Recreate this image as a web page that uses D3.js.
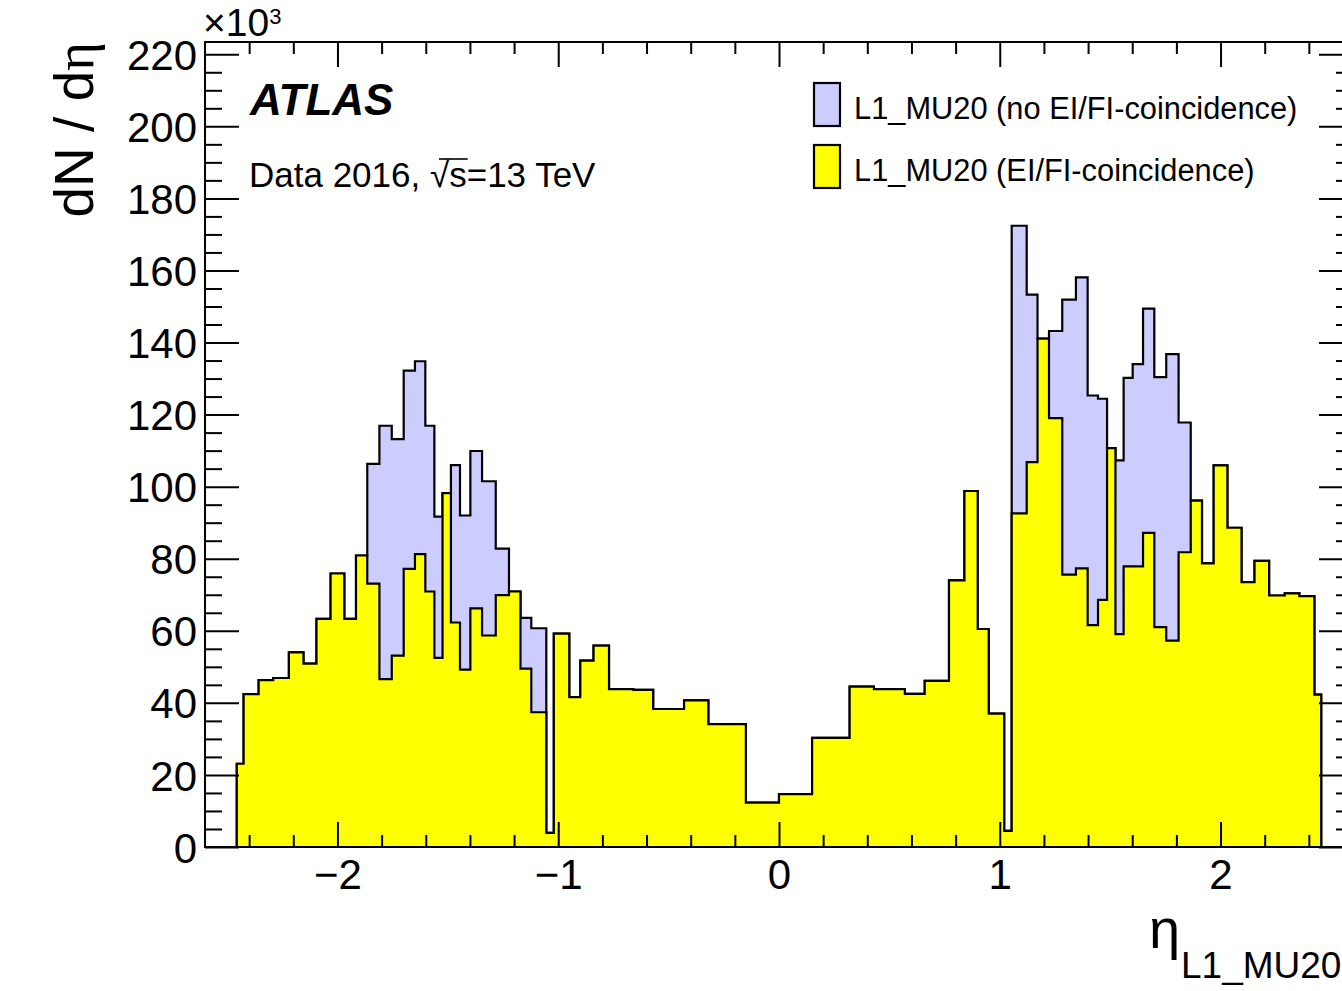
<!DOCTYPE html>
<html>
<head>
<meta charset="utf-8">
<script src="https://cdn.jsdelivr.net/npm/d3@7"></script>
<style>
  html, body { margin: 0; padding: 0; background: #fff; }
  svg { display: block; }
  text { font-family: "Liberation Sans", Arial, Helvetica, sans-serif; fill: #000; }
</style>
</head>
<body>
<svg id="chart" width="1342" height="991"></svg>
<script>
// ---------------- data ----------------
const etaEdges = [
  -2.456, -2.425, -2.357, -2.291, -2.220, -2.154, -2.095, -2.031, -1.969, -1.916,
  -1.865, -1.810, -1.754, -1.700, -1.649, -1.602, -1.561, -1.524, -1.486, -1.445,
  -1.398, -1.345, -1.283, -1.223, -1.171, -1.122, -1.054, -1.020,
  -0.95, -0.90, -0.84, -0.77, -0.66, -0.57, -0.43, -0.32, -0.15, 0.0,
  0.15, 0.32, 0.43, 0.57, 0.66, 0.77, 0.84, 0.90, 0.95, 1.020,
  1.054, 1.122, 1.171, 1.223, 1.283, 1.345, 1.398, 1.445, 1.486, 1.524,
  1.561, 1.602, 1.649, 1.700, 1.754, 1.810, 1.865, 1.916, 1.969, 2.031,
  2.095, 2.154, 2.220, 2.291, 2.357, 2.425, 2.456
];

// L1_MU20 (no EI/FI-coincidence), units of 10^3
const noCoincidence = [
  23.1, 42.4, 46.3, 46.9, 54.0, 50.9, 63.3, 75.9, 63.3, 80.9,
  106.3, 116.9, 113.2, 132.2, 134.8, 116.9, 91.7, 98.2, 106.0, 92.0,
  109.9, 101.5, 82.8, 70.9, 63.6, 60.7, 3.9,
  59.2, 41.6, 51.7, 55.9, 43.8, 43.6, 38.3, 40.7, 34.1, 12.3,
  14.7, 30.3, 44.5, 43.8, 42.5, 46.1, 74.0, 98.8, 60.5, 37.0,
  4.5, 172.4, 153.3, 141.1, 143.2, 151.9, 158.1, 125.3, 124.4, 110.7,
  107.3, 130.2, 134.0, 149.4, 130.4, 136.8, 117.8, 96.1, 78.7, 105.9,
  88.6, 73.5, 79.4, 69.8, 70.4, 69.6, 42.3
];

// L1_MU20 (EI/FI-coincidence), units of 10^3
const coincidence = [
  23.1, 42.4, 46.3, 46.9, 54.0, 50.9, 63.3, 75.9, 63.3, 80.9,
  73.1, 46.6, 53.1, 77.2, 81.3, 70.9, 52.5, 98.2, 62.3, 49.2,
  66.2, 58.7, 69.9, 70.9, 49.5, 37.4, 3.9,
  59.2, 41.6, 51.7, 55.9, 43.8, 43.6, 38.3, 40.7, 34.1, 12.3,
  14.7, 30.3, 44.5, 43.8, 42.5, 46.1, 74.0, 98.8, 60.5, 37.0,
  4.5, 92.6, 106.8, 141.1, 119.0, 75.6, 77.3, 61.6, 68.6, 110.7,
  59.1, 77.9, 77.9, 87.2, 61.0, 57.3, 81.8, 96.1, 78.7, 105.9,
  88.6, 73.5, 79.4, 69.8, 70.4, 69.6, 42.3
];

const seriesNames = ["L1_MU20 (no EI/FI-coincidence)", "L1_MU20 (EI/FI-coincidence)"];
const seriesColors = ["#ccccff", "#ffff00"];

const xMajorTicks = [-2, -1, 0, 1, 2];
const yMajorTicks = [0, 20, 40, 60, 80, 100, 120, 140, 160, 180, 200, 220];

// ---------------- layout ----------------
const frame = { left: 205, right: 1353, top: 42, bottom: 847 };
const svg = d3.select("#chart");

const x = d3.scaleLinear().domain([-2.6, 2.6]).range([frame.left, frame.right]);
const y = d3.scaleLinear().domain([0, 223.4]).range([frame.bottom, frame.top]);

const xMinorTicks = d3.range(-24, 25, 2).map(v => v / 10).filter(v => !xMajorTicks.some(m => Math.abs(m - v) < 1e-9));
const yMinorTicks = d3.range(0, 224, 5).filter(v => v % 20 !== 0);

const plot = svg.append("g");
plot.append("defs").append("clipPath").attr("id", "clip")
  .append("rect").attr("x", frame.left).attr("y", frame.top)
  .attr("width", frame.right - frame.left).attr("height", frame.bottom - frame.top);

function histPath(values) {
  const pts = [[x(etaEdges[0]), y(0)]];
  values.forEach((v, i) => {
    pts.push([x(etaEdges[i]), y(v)]);
    pts.push([x(etaEdges[i + 1]), y(v)]);
  });
  pts.push([x(etaEdges[etaEdges.length - 1]), y(0)]);
  return pts;
}

const line = d3.line();
[noCoincidence, coincidence].forEach((vals, k) => {
  const pts = histPath(vals);
  const g = plot.append("g").attr("clip-path", "url(#clip)");
  g.append("path").attr("d", line(pts) + "Z")
    .attr("fill", seriesColors[k]).attr("stroke", "none");
  g.append("path").attr("d", line(pts))
    .attr("fill", "none").attr("stroke", "#000").attr("stroke-width", 2.2)
    .attr("stroke-linejoin", "miter");
});

// ---------------- axes ----------------
function styleAxis(g) {
  g.select(".domain").remove();
  g.selectAll(".tick line").attr("stroke", "#000").attr("stroke-width", 2);
}

// bottom
svg.append("g").attr("transform", `translate(0,${frame.bottom})`)
  .call(d3.axisBottom(x).tickValues(xMajorTicks).tickSize(-25).tickPadding(12)
    .tickFormat(d3.format("d")))
  .call(styleAxis)
  .call(g => g.selectAll("text").attr("font-size", 42).attr("font-family", "Liberation Sans, Arial, sans-serif"));
svg.append("g").attr("transform", `translate(0,${frame.bottom})`)
  .call(d3.axisBottom(x).tickValues(xMinorTicks).tickSize(-12).tickFormat(""))
  .call(styleAxis);
// top
svg.append("g").attr("transform", `translate(0,${frame.top})`)
  .call(d3.axisTop(x).tickValues(xMajorTicks).tickSize(-25).tickFormat(""))
  .call(styleAxis);
svg.append("g").attr("transform", `translate(0,${frame.top})`)
  .call(d3.axisTop(x).tickValues(xMinorTicks).tickSize(-12).tickFormat(""))
  .call(styleAxis);
// left
svg.append("g").attr("transform", `translate(${frame.left},0)`)
  .call(d3.axisLeft(y).tickValues(yMajorTicks).tickSize(-34).tickPadding(8)
    .tickFormat(d3.format("d")))
  .call(styleAxis)
  .call(g => g.selectAll("text").attr("font-size", 42).attr("dy", "0.36em").attr("font-family", "Liberation Sans, Arial, sans-serif"));
svg.append("g").attr("transform", `translate(${frame.left},0)`)
  .call(d3.axisLeft(y).tickValues(yMinorTicks).tickSize(-17).tickFormat(""))
  .call(styleAxis);
// right
svg.append("g").attr("transform", `translate(${frame.right},0)`)
  .call(d3.axisRight(y).tickValues(yMajorTicks).tickSize(-34).tickFormat(""))
  .call(styleAxis);
svg.append("g").attr("transform", `translate(${frame.right},0)`)
  .call(d3.axisRight(y).tickValues(yMinorTicks).tickSize(-17).tickFormat(""))
  .call(styleAxis);

// frame
svg.append("rect").attr("x", frame.left).attr("y", frame.top)
  .attr("width", frame.right - frame.left).attr("height", frame.bottom - frame.top)
  .attr("fill", "none").attr("stroke", "#000").attr("stroke-width", 2);

// ---------------- titles ----------------
// ×10^3
const mult = svg.append("text").attr("x", 203).attr("y", 36).attr("font-size", 39);
mult.append("tspan").text("×10");
mult.append("tspan").attr("font-size", 22).attr("dy", -12).text("3");

// y title
const yt = svg.append("text")
  .attr("transform", `translate(93,${frame.top}) rotate(-90)`)
  .attr("text-anchor", "end").attr("font-size", 55);
yt.append("tspan").text("dN / d");
yt.append("tspan").attr("font-family", "Liberation Serif, serif").text("η");

// x title
svg.append("text").attr("x", 1149).attr("y", 948).attr("font-size", 56)
  .attr("font-family", "Liberation Serif, serif").text("η");
svg.append("text").attr("x", 1181).attr("y", 978).attr("font-size", 37).text("L1_MU20");

// ATLAS label
svg.append("text").attr("x", 250).attr("y", 115).attr("font-size", 44)
  .attr("font-weight", "bold").attr("font-style", "italic").text("ATLAS");

// Data 2016, sqrt(s)=13 TeV
const dataY = 187;
const dt = svg.append("text").attr("x", 249).attr("y", dataY).attr("font-size", 35);
dt.append("tspan").text("Data 2016, ");
dt.append("tspan").text("√");
dt.append("tspan").text("s");
dt.append("tspan").text("=13 TeV");
// overline over s
{
  const node = dt.node();
  const full = node.textContent;
  const idx = full.indexOf("√");
  const end = node.getEndPositionOfChar(idx + 1);
  const rstart = node.getStartPositionOfChar(idx);
  svg.append("line").attr("x1", rstart.x + 9).attr("x2", end.x + 1)
    .attr("y1", dataY - 28).attr("y2", dataY - 28)
    .attr("stroke", "#000").attr("stroke-width", 1.6);
}

// ---------------- legend ----------------
const legendRows = [
  { name: seriesNames[0], color: seriesColors[0], boxY: 83, textY: 119 },
  { name: seriesNames[1], color: seriesColors[1], boxY: 145, textY: 181 }
];
legendRows.forEach(r => {
  svg.append("rect").attr("x", 814).attr("y", r.boxY).attr("width", 26).attr("height", 43)
    .attr("fill", r.color).attr("stroke", "#000").attr("stroke-width", 2.2);
  svg.append("text").attr("x", 854).attr("y", r.textY).attr("font-size", 30.8).text(r.name);
});
</script>
</body>
</html>
